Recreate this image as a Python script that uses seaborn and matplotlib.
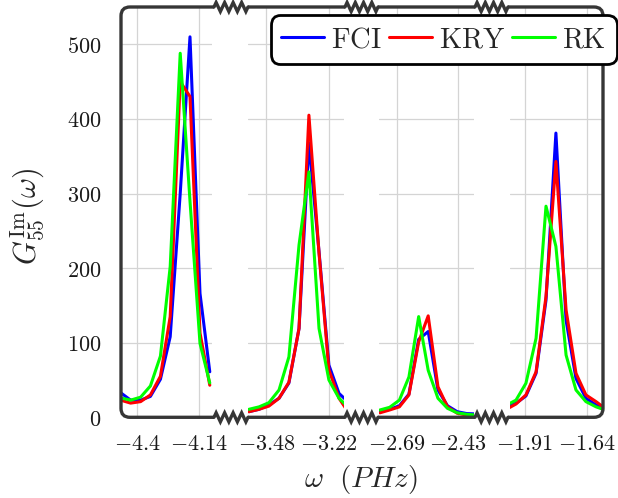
import numpy as np
import pandas as pd
import matplotlib
matplotlib.use("Agg")
import matplotlib.pyplot as plt
import seaborn as sns
from matplotlib.patches import FancyBboxPatch, Rectangle
from matplotlib.lines import Line2D

# ---------------- data ----------------
methods = ["FCI", "KRY", "RK"]
colors = {"FCI": "#0000ff", "KRY": "#ff0000", "RK": "#00ff00"}

x1 = [-4.470, -4.428, -4.386, -4.345, -4.303, -4.262, -4.220, -4.179, -4.137, -4.096]
fci1 = [33, 23, 23, 28, 51, 108, 300, 510, 166, 61]
kry1 = [23, 19, 21, 30, 55, 135, 450, 430, 113, 43]
rk1 = [26, 23, 27, 42, 82, 202, 488, 290, 99, 46]

x2 = [-3.553, -3.511, -3.470, -3.428, -3.387, -3.345, -3.304, -3.262, -3.221, -3.179, -3.138]
fci2 = [7.5, 10.7, 16.5, 25.5, 46, 119, 368, 222, 70, 32, 19.6]
kry2 = [7.5, 10.7, 15, 25.5, 47, 119, 405, 220, 63.5, 25.5, 5.5]
rk2 = [10.7, 14, 19.6, 36.6, 81, 231, 329, 119, 50, 25.5, 12.7]

x3 = [-2.765, -2.723, -2.681, -2.640, -2.598, -2.557, -2.515, -2.474, -2.432, -2.391, -2.349]
fci3 = [7.5, 10.7, 15.5, 31, 104.5, 115, 36.6, 15.5, 7.5, 5, 4.5]
kry3 = [6, 9.8, 14, 30, 101, 136, 41, 14, 5.4, 3, 1.7]
rk3 = [9.8, 13.4, 23, 54, 135, 63, 25.5, 12, 6, 4, 3]

x4 = [-1.992, -1.949, -1.906, -1.862, -1.819, -1.776, -1.732, -1.689, -1.646, -1.602, -1.559]
fci4 = [15, 18.8, 28.6, 59, 157, 381, 130, 52, 25.5, 16.5, 10]
kry4 = [10.5, 17.8, 30, 61, 162, 343, 144, 59, 30, 21, 11]
rk4 = [16, 23, 45.6, 106, 283, 229, 83.5, 36.6, 21, 14, 9.3]

panel_x = [x1, x2, x3, x4]
panel_vals = [
    {"FCI": fci1, "KRY": kry1, "RK": rk1},
    {"FCI": fci2, "KRY": kry2, "RK": rk2},
    {"FCI": fci3, "KRY": kry3, "RK": rk3},
    {"FCI": fci4, "KRY": kry4, "RK": rk4},
]
panel_xlims = [(-4.4683, -4.0867), (-3.5567, -3.1584), (-2.7688, -2.3598), (-1.975, -1.5719)]
panel_xticks = [[-4.4, -4.14], [-3.48, -3.22], [-2.69, -2.43], [-1.91, -1.64]]
xtick_labels = [["-4.4", "-4.14"], ["-3.48", "-3.22"], ["-2.69", "-2.43"], ["-1.91", "-1.64"]]
y_ticks = [0, 100, 200, 300, 400, 500]
y_tick_labels = ["0", "100", "200", "300", "400", "500"]

rows = []
for p, (xs, vals) in enumerate(zip(panel_x, panel_vals)):
    for m in methods:
        for xv, yv in zip(xs, vals[m]):
            rows.append({"panel": p, "method": m, "x": xv, "y": yv})
df = pd.DataFrame(rows)

# ---------------- style ----------------
sns.set_style("white")
plt.rcParams["mathtext.fontset"] = "cm"
plt.rcParams["font.family"] = ["DejaVu Serif"]

W, H = 618, 498
fig = plt.figure(figsize=(W / 100, H / 100), dpi=100)

panel_px = [(121, 212), (248, 344), (379, 474), (510, 603)]
top_px, bot_px = 7.0, 417.3

def fx(px):
    return px / W

def fy(py):
    return 1 - py / H

frame_col = "#363636"
tick_col = "#9a9a9a"
grid_col = "#d4d4d4"

axes = []
for p, (l, r) in enumerate(panel_px):
    ax = fig.add_axes([fx(l), fy(bot_px), (r - l) / W, (bot_px - top_px) / H])
    sub = df[df.panel == p]
    sns.lineplot(data=sub, x="x", y="y", hue="method", hue_order=methods,
                 palette=colors, estimator=None, sort=True, legend=False,
                 linewidth=2.2, ax=ax)
    ax.set_xlim(*panel_xlims[p])
    ax.set_ylim(0, 550)
    ax.set_xticks(panel_xticks[p])
    ax.set_xticklabels(["$%s$" % s for s in xtick_labels[p]])
    ax.set_yticks(y_ticks)
    if p == 0:
        ax.set_yticklabels(["$%s$" % s for s in y_tick_labels])
    else:
        ax.tick_params(axis="y", labelleft=False)
    ax.set_axisbelow(True)
    ax.grid(True, color=grid_col, linewidth=0.9)
    ax.tick_params(axis="both", direction="out", length=5, width=0.9,
                   colors=tick_col, labelcolor="#1a1a1a", labelsize=16)
    ax.tick_params(axis="x", pad=6)
    ax.tick_params(axis="y", pad=9)
    for s in ax.spines.values():
        s.set_visible(False)
    ax.set_xlabel("")
    ax.set_ylabel("")
    ax.patch.set_alpha(0)
    axes.append(ax)

# ---------------- frame overlay ----------------
ov = fig.add_axes([0, 0, 1, 1], zorder=3)
ov.set_xlim(0, W)
ov.set_ylim(H, 0)
ov.axis("off")
ov.patch.set_alpha(0)

frame = FancyBboxPatch((121, top_px), 603 - 121, bot_px - top_px,
                       boxstyle="round,pad=0,rounding_size=9",
                       fill=False, edgecolor=frame_col, linewidth=2.4)
ov.add_patch(frame)

gaps = [(214, 248), (345, 378), (475, 508)]
for (g0, g1) in gaps:
    for yc in (top_px, bot_px):
        ov.add_patch(Rectangle((g0, yc - 3), g1 - g0, 6, facecolor="white",
                               edgecolor="none", zorder=2))
        n = 4
        xs = [g0]
        ys = [yc]
        for k in range(2 * n):
            xs.append(g0 + (k + 0.5) * (g1 - g0) / (2 * n))
            ys.append(yc - 4.5 if k % 2 == 0 else yc + 4.5)
        xs.append(g1)
        ys.append(yc)
        ov.plot(xs, ys, color=frame_col, lw=2.4, solid_joinstyle="miter", zorder=3)

# ---------------- legend ----------------
handles = [Line2D([], [], color=colors[m], lw=2.2) for m in methods]
leg = fig.legend(handles, [r"$\mathrm{%s}$" % m for m in methods],
                 loc="center right", bbox_to_anchor=(fx(616.5), fy(39.5)),
                 ncol=3, fontsize=20.5, frameon=True, fancybox=True,
                 handlelength=1.5, handletextpad=0.25, columnspacing=0.25,
                 borderpad=0.38, borderaxespad=0)
leg.set_zorder(10)
fr = leg.get_frame()
fr.set_edgecolor("black")
fr.set_linewidth(2.0)
fr.set_alpha(1)
fr.set_boxstyle("round,pad=0,rounding_size=0.35")

# ---------------- axis labels ----------------
fig.text(fx(27.5), fy(216), r"$G^{\mathrm{Im}}_{55}(\omega)$", rotation=90,
         ha="center", va="center", fontsize=22)
fig.text(fx(361), fy(479), r"$\omega\ \ (PHz)$", ha="center", va="center", fontsize=21)

fig.savefig("out.png", dpi=100)
